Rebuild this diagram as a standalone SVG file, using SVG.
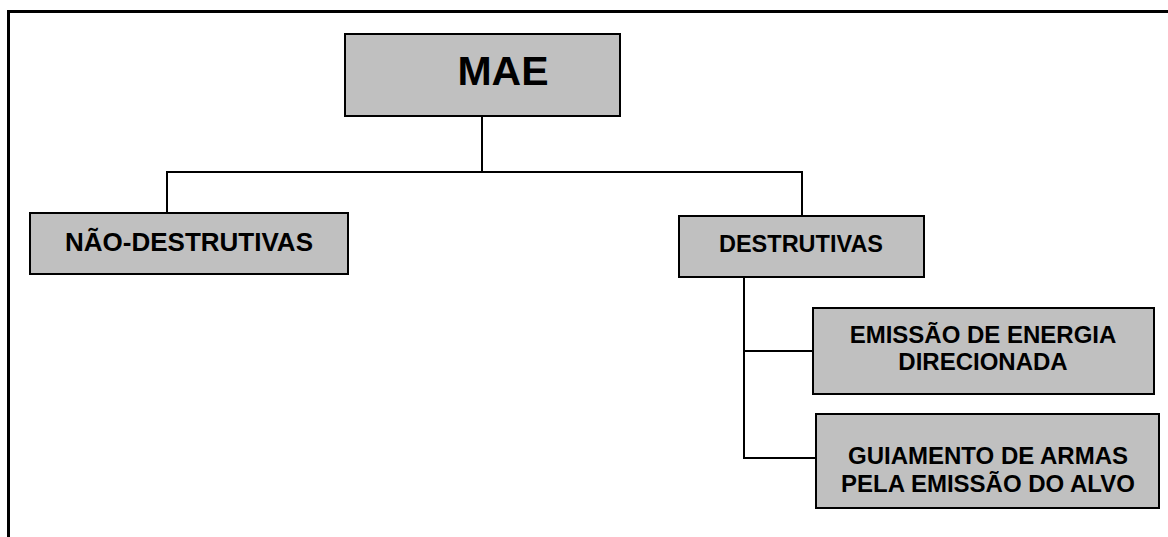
<svg xmlns="http://www.w3.org/2000/svg" width="1168" height="537" viewBox="0 0 1168 537">
  <style>
    .box { fill: #c0c0c0; stroke: #000; stroke-width: 2; }
    .lbl { font-family: "Liberation Sans", Arial, sans-serif; font-weight: bold; fill: #000; text-anchor: middle; }
    .wire { fill: none; stroke: #000; stroke-width: 2; }
  </style>
  <rect width="1168" height="537" fill="#fff"/>
  <!-- page frame -->
  <path d="M8.5,537 V11.5 H1168" fill="none" stroke="#000" stroke-width="3"/>

  <g id="connectors">
    <path class="wire" d="M482,116 V172"/>
    <path class="wire" d="M167,213 V172 H802 V216"/>
    <path class="wire" d="M744,277 V458 H816"/>
    <path class="wire" d="M744,351 H813"/>
  </g>

  <g id="mae">
    <rect class="box" x="345" y="34" width="275" height="82"/>
    <text class="lbl" x="503" y="85" font-size="41">MAE</text>
  </g>

  <g id="nao-destrutivas">
    <rect class="box" x="30" y="213" width="318" height="61"/>
    <text class="lbl" x="189" y="251" font-size="26">NÃO-DESTRUTIVAS</text>
  </g>

  <g id="destrutivas">
    <rect class="box" x="679" y="216" width="245" height="61"/>
    <text class="lbl" x="801" y="252" font-size="23.5">DESTRUTIVAS</text>
  </g>

  <g id="emissao-energia">
    <rect class="box" x="813" y="308" width="341" height="86"/>
    <text class="lbl" x="983" y="343" font-size="24">EMISSÃO DE ENERGIA</text>
    <text class="lbl" x="983" y="370" font-size="24">DIRECIONADA</text>
  </g>

  <g id="guiamento-armas">
    <rect class="box" x="816" y="414" width="343" height="94"/>
    <text class="lbl" x="988" y="464" font-size="24">GUIAMENTO DE ARMAS</text>
    <text class="lbl" x="988" y="492" font-size="24">PELA EMISSÃO DO ALVO</text>
  </g>
</svg>
